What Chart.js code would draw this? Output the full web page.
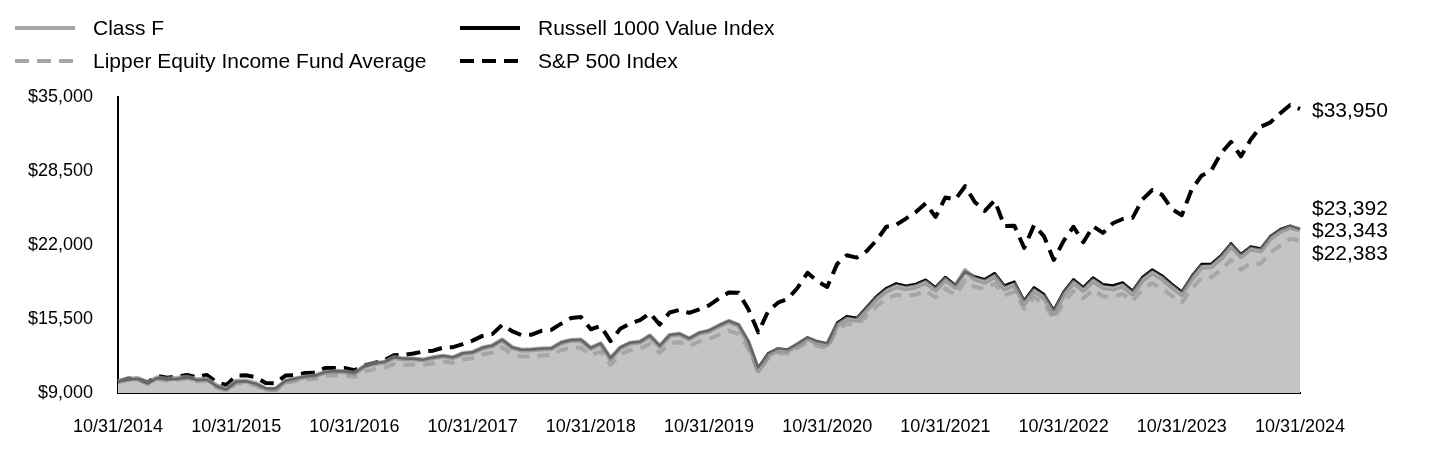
<!DOCTYPE html>
<html>
<head>
<meta charset="utf-8">
<script src="https://cdn.jsdelivr.net/npm/chart.js@4.4.1/dist/chart.umd.min.js"></script>
<style>
  html, body { margin: 0; padding: 0; background: #fff; }
  #wrap { position: relative; width: 1440px; height: 468px; font-family: "Liberation Sans", Arial, sans-serif; }
  #chart { position: absolute; left: 0; top: 0; }
  .lg { position: absolute; display: flex; align-items: center; font-size: 21px; color: #000; white-space: nowrap; }
  .lg svg { margin-right: 18px; }
</style>
</head>
<body>
<div id="wrap">
  <canvas id="chart" width="1440" height="468"></canvas>
  <div class="lg" style="left:15px; top:16px;">
    <svg width="60" height="6"><line x1="0" y1="3" x2="60" y2="3" stroke="#a6a6a6" stroke-width="4"/></svg>Class F
  </div>
  <div class="lg" style="left:15px; top:49px;">
    <svg width="60" height="6"><line x1="0" y1="3" x2="60" y2="3" stroke="#a6a6a6" stroke-width="4" stroke-dasharray="14 8"/></svg>Lipper Equity Income Fund Average
  </div>
  <div class="lg" style="left:460px; top:16px;">
    <svg width="60" height="6"><line x1="0" y1="3" x2="60" y2="3" stroke="#000" stroke-width="4"/></svg>Russell 1000 Value Index
  </div>
  <div class="lg" style="left:460px; top:49px;">
    <svg width="60" height="6"><line x1="0" y1="3" x2="60" y2="3" stroke="#000" stroke-width="4" stroke-dasharray="14 8"/></svg>S&amp;P 500 Index
  </div>
</div>
<script>
// month-end dates, 10/31/2014 .. 10/31/2024
const months = [];
for (let k = 0; k <= 120; k++) {
    const d = new Date(2014, 10 + k, 0);
    months.push((d.getMonth() + 1) + "/" + d.getDate() + "/" + d.getFullYear());
}

const yTicks = [9000, 15500, 22000, 28500, 35000];

const classF = [
    10000, 10210, 10280, 9880, 10350, 10220, 10290, 10390, 10170, 10230,
    9660, 9330, 10040, 10050, 9830, 9360, 9330, 10020, 10230, 10400,
    10500, 10810, 10900, 10870, 10720, 11320, 11600, 11690, 12110, 11990,
    11980, 11910, 12100, 12240, 12100, 12460, 12560, 12950, 13140, 13660,
    12990, 12760, 12800, 12870, 12900, 13410, 13620, 13650, 12920, 13320,
    12000, 12960, 13380, 13470, 14010, 13100, 14050, 14170, 13750, 14240,
    14440, 14880, 15290, 14940, 13400, 10950, 12300, 12780, 12700, 13220,
    13760, 13420, 13220, 14950, 15500, 15380, 16300, 17250, 17950, 18350,
    18180, 18330, 18700, 18050, 18950, 18300, 19750, 19000, 18750, 19250,
    18150, 18500, 16850, 17980, 17400, 16000, 17600, 18700, 18020, 18850,
    18280, 18150, 18420, 17700, 18900, 19560, 19050, 18300, 17650, 19000,
    20050, 20100, 20850, 21900, 20980, 21650, 21480, 22580, 23180, 23560,
    23343
];

const russell = [
    10000, 10200, 10260, 9850, 10320, 10180, 10250, 10360, 10150, 10190,
    9610, 9310, 10010, 10030, 9820, 9400, 9390, 10070, 10280, 10440,
    10530, 10840, 10930, 10910, 10750, 11350, 11640, 11720, 12140, 12020,
    12000, 11930, 12120, 12270, 12130, 12490, 12580, 12970, 13160, 13680,
    13020, 12790, 12830, 12900, 12930, 13440, 13650, 13680, 12960, 13350,
    12070, 13010, 13420, 13500, 14050, 13150, 14090, 14210, 13800, 14290,
    14490, 14930, 15340, 15010, 13550, 11230, 12490, 12920, 12830, 13340,
    13890, 13540, 13360, 15170, 15750, 15610, 16540, 17510, 18220, 18630,
    18430, 18580, 18950, 18290, 19190, 18510, 19680, 19230, 19000, 19530,
    18440, 18790, 17150, 18280, 17700, 16300, 17900, 18990, 18300, 19150,
    18560, 18440, 18700, 17980, 19180, 19850, 19320, 18570, 17920, 19270,
    20330, 20360, 21110, 22150, 21210, 21880, 21690, 22790, 23380, 23700,
    23392
];

const lipper = [
    10000, 10150, 10180, 9800, 10230, 10080, 10170, 10250, 10030, 10040,
    9500, 9200, 9850, 9860, 9650, 9250, 9250, 9880, 10060, 10180,
    10230, 10500, 10560, 10540, 10400, 10850, 11100, 11200, 11560, 11460,
    11480, 11470, 11610, 11770, 11650, 11950, 12050, 12380, 12550, 13020,
    12430, 12200, 12230, 12300, 12330, 12780, 12950, 12980, 12320, 12650,
    11480, 12380, 12770, 12870, 13330, 12520, 13370, 13460, 13110, 13550,
    13740, 14120, 14480, 14170, 12880, 10900, 12050, 12480, 12470, 12950,
    13450, 13130, 12920, 14550, 15070, 14950, 15780, 16620, 17260, 17620,
    17510, 17650, 17980, 17400, 18180, 17600, 18870, 18320, 18150, 18620,
    17600, 17880, 16380, 17400, 16860, 15480, 16950, 17950, 17320, 18050,
    17500, 17460, 17700, 17080, 18080, 18640, 18200, 17520, 16950, 18170,
    19100, 19180, 19830, 20700, 19840, 20420, 20350, 21350, 21950, 22550,
    22383
];

const sp500 = [
    10000, 10270, 10245, 9937, 10509, 10343, 10442, 10577, 10372, 10590,
    9951, 9705, 10524, 10555, 10389, 9874, 9861, 10530, 10571, 10761,
    10789, 11187, 11203, 11205, 11001, 11408, 11634, 11855, 12325, 12340,
    12467, 12643, 12721, 12983, 13023, 13291, 13601, 14019, 14175, 14987,
    14434, 14067, 14121, 14461, 14550, 15091, 15583, 15672, 14600, 14898,
    13553, 14639, 15109, 15402, 16026, 15008, 16066, 16297, 16040, 16340,
    16695, 17301, 17823, 17816, 16350, 14330, 16167, 16937, 17274, 18248,
    19560, 18817, 18316, 20322, 21102, 20889, 21466, 22406, 23603, 23768,
    24322, 24901, 25658, 24465, 26179, 25998, 27163, 25758, 24988, 25915,
    23655, 23698, 21743, 23748, 22779, 20681, 22356, 23604, 22244, 23640,
    23063, 23909, 24282, 24387, 25999, 26833, 26406, 25147, 24619, 26866,
    28086, 28558, 30083, 31052, 29785, 31262, 32382, 32777, 33573, 34292,
    33950
];

const endLabels = ["$33,950", "$23,392", "$23,343", "$22,383"];

const FONT = "'Liberation Sans', Arial, sans-serif";

const endLabelPlugin = {
    id: "endLabels",
    afterDraw(chart) {
        const ctx = chart.ctx;
        const y = chart.scales.y;
        const x0 = chart.chartArea.right + 12;
        ctx.save();
        ctx.fillStyle = "#000";
        ctx.font = "21px " + FONT;
        ctx.textAlign = "left";
        ctx.textBaseline = "middle";
        ctx.fillText(endLabels[0], x0, y.getPixelForValue(sp500[120]) + 2);
        const mid = y.getPixelForValue(classF[120]) + 1;
        ctx.fillText(endLabels[1], x0, mid - 22);
        ctx.fillText(endLabels[2], x0, mid);
        ctx.fillText(endLabels[3], x0, mid + 23);
        ctx.restore();
    }
};

new Chart(document.getElementById("chart"), {
    type: "line",
    data: {
        labels: months,
        datasets: [
            {
                label: "Class F",
                data: classF,
                borderColor: "rgba(140,140,140,0.72)",
                borderWidth: 5,
                backgroundColor: "#c4c4c4",
                fill: "start",
                order: 1
            },
            {
                label: "Russell 1000 Value Index",
                data: russell,
                borderColor: "#000",
                borderWidth: 2.5,
                fill: false,
                order: 2
            },
            {
                label: "Lipper Equity Income Fund Average",
                data: lipper,
                borderColor: "#a6a6a6",
                borderWidth: 4,
                borderDash: [12, 8],
                fill: false,
                order: 3
            },
            {
                label: "S&P 500 Index",
                data: sp500,
                borderColor: "#000",
                borderWidth: 4,
                borderDash: [14, 8],
                fill: false,
                order: 4
            }
        ]
    },
    options: {
        responsive: false,
        animation: false,
        elements: { point: { radius: 0 }, line: { tension: 0, borderJoinStyle: "round" } },
        layout: { padding: { top: 97, right: 140, left: 0, bottom: 0 } },
        plugins: {
            legend: { display: false },
            tooltip: { enabled: false },
            filler: { drawTime: "beforeDatasetsDraw" }
        },
        scales: {
            x: {
                type: "category",
                offset: false,
                grid: { display: false, drawTicks: false },
                border: { display: true, color: "#000", width: 2 },
                afterFit: function (s) { s.height = 75; },
                ticks: {
                    autoSkip: false,
                    maxRotation: 0,
                    minRotation: 0,
                    padding: 23,
                    color: "#000",
                    font: { size: 18, family: FONT },
                    callback: function (v, i) { return i % 12 === 0 ? months[i] : ""; }
                }
            },
            y: {
                min: yTicks[0],
                max: yTicks[yTicks.length - 1],
                grid: { display: false, drawTicks: false },
                border: { display: true, color: "#000", width: 2 },
                afterFit: function (s) { s.width = 118; },
                afterBuildTicks: function (s) { s.ticks = yTicks.map(function (v) { return { value: v }; }); },
                ticks: {
                    padding: 25,
                    color: "#000",
                    font: { size: 18, family: FONT },
                    callback: function (v) { return "$" + v.toLocaleString("en-US"); }
                }
            }
        }
    },
    plugins: [endLabelPlugin]
});
</script>
</body>
</html>
